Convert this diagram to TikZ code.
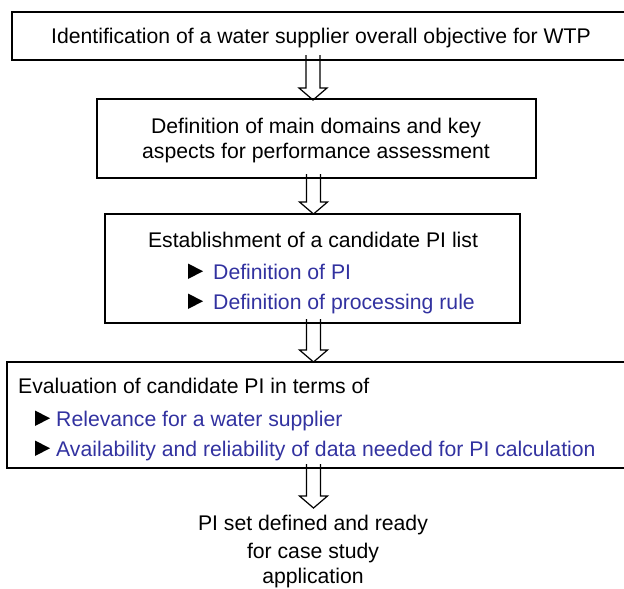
\documentclass[tikz,border=0pt]{standalone}
\usepackage{fontspec}
\setmainfont{Liberation Sans}
\definecolor{itemblue}{RGB}{50,50,160}
\tikzset{
  box/.style={draw=black, line width=1.2pt, inner sep=0pt, rectangle},
  txt/.style={inner sep=0pt, font=\fontsize{21.2}{25}\selectfont},
  itm/.style={txt, text=itemblue, anchor=base west},
  blk/.style={draw=black, line width=1.2pt, line join=miter},
  tri/.style={fill=black}
}
\newcommand{\blockarrow}[3]{% x, ytop, ytip (pixel, downward)
  \draw[blk] (#1-7,-#2) -- (#1-7,-#3+12) -- (#1-14,-#3+12) -- (#1,-#3)
    -- (#1+14,-#3+12) -- (#1+7,-#3+12) -- (#1+7,-#2);}
\newcommand{\bullettri}[2]{% x, baseline
  \fill[tri] (#1,-#2) -- (#1,-#2+15.5) -- (#1+15,-#2+7.75) -- cycle;}
\begin{document}
\begin{tikzpicture}[x=1pt,y=1pt]
\useasboundingbox (0,0) rectangle (624,-589);
% boxes
\node[box, minimum width=616pt, minimum height=48pt] (b1) at (320,-36) {};
\node[box, minimum width=439pt, minimum height=79pt] (b2) at (316.5,-138.5) {};
\node[box, minimum width=415pt, minimum height=109pt] (b3) at (312.5,-268.5) {};
\node[box, minimum width=621pt, minimum height=106pt] (b4) at (317.5,-415) {};
% texts
\node[txt, anchor=base] (t1) at (321,-43) {Identification of a water supplier overall objective for WTP};
\node[txt, anchor=base] (t2a) at (316,-133) {Definition of main domains and key};
\node[txt, anchor=base] (t2b) at (316,-158) {aspects for performance assessment};
\node[txt, anchor=base] (t3a) at (313,-247) {Establishment of a candidate PI list};
\node[itm] (t3b) at (213,-279) {Definition of PI};
\node[itm] (t3c) at (213,-309) {Definition of processing rule};
\node[txt, anchor=base west] (t4a) at (18,-393) {Evaluation of candidate PI in terms of};
\node[itm] (t4b) at (56,-426) {Relevance for a water supplier};
\node[itm] (t4c) at (56,-456) {Availability and reliability of data needed for PI calculation};
\node[txt, anchor=base] (t5a) at (313,-530) {PI set defined and ready};
\node[txt, anchor=base] (t5b) at (313,-558) {for case study};
\node[txt, anchor=base] (t5c) at (313,-583) {application};
% bullets
\bullettri{188}{279}
\bullettri{188}{309}
\bullettri{35}{426}
\bullettri{35}{456}
% arrows
\blockarrow{313}{55}{100}
\blockarrow{313.5}{174}{214}
\blockarrow{313.5}{319}{362}
\blockarrow{313.5}{464}{508}
\end{tikzpicture}
\end{document}
